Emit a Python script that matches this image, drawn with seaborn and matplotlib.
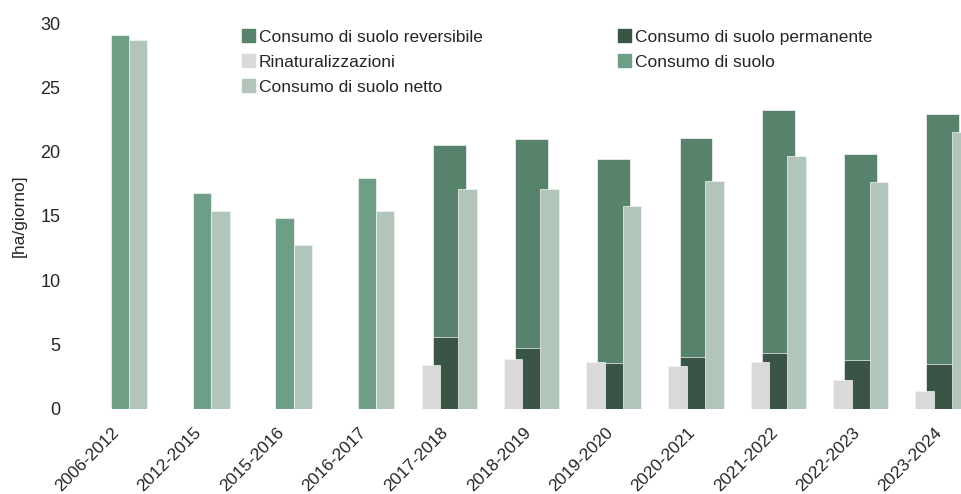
import matplotlib
matplotlib.use("Agg")
import matplotlib.pyplot as plt
from matplotlib.patches import Patch
import numpy as np
import pandas as pd
import seaborn as sns

periods = ["2006-2012", "2012-2015", "2015-2016", "2016-2017", "2017-2018", "2018-2019",
           "2019-2020", "2020-2021", "2021-2022", "2022-2023", "2023-2024"]
consumo = [29.1, 16.8, 14.85, 17.95, None, None, None, None, None, None, None]
permanente = [None, None, None, None, 5.6, 4.75, 3.55, 4.05, 4.3, 3.75, 3.5]
reversibile = [None, None, None, None, 14.9, 16.2, 15.85, 17.0, 18.9, 16.1, 19.4]
rinaturalizzazioni = [None, None, None, None, 3.4, 3.9, 3.6, 3.3, 3.6, 2.2, 1.4]
netto = [28.65, 15.35, 12.75, 15.35, 17.1, 17.05, 15.75, 17.7, 19.65, 17.6, 21.5]

colors = {
    "reversibile": "#57826b",
    "permanente": "#3a5445",
    "rinat": "#d9d9d9",
    "consumo": "#6e9e86",
    "netto": "#b1c5ba",
}

sns.set_theme(style="white")
plt.rcParams["font.family"] = ["Liberation Sans", "DejaVu Sans"]
FS = 12.5

df = pd.DataFrame({
    "period": periods,
    "pos": np.arange(len(periods), dtype=float),
    "consumo": consumo,
    "permanente": permanente,
    "reversibile": reversibile,
    "rinat": rinaturalizzazioni,
    "netto": netto,
})
df["totale"] = df["permanente"] + df["reversibile"]

fig = plt.figure(figsize=(9.61, 4.94), dpi=100)
ax = fig.add_axes([0.07, 0.1727, 0.93, 0.7807])

narrow = 0.225
wide = 0.40
off = 0.222
edge = dict(edgecolor="#f2f5f3", linewidth=0.5)


def bars(col, shift, width, color):
    d = df.dropna(subset=[col])
    sns.barplot(x=d["pos"] + shift, y=d[col], native_scale=True, width=width,
                color=color, saturation=1, errorbar=None, ax=ax, **edge)


# stacked: reversibile on top of permanente
bars("totale", 0, wide, colors["reversibile"])
bars("permanente", 0, wide, colors["permanente"])
bars("rinat", -off, narrow, colors["rinat"])
bars("consumo", 0, narrow, colors["consumo"])
bars("netto", off, narrow, colors["netto"])

ax.set_xlim(-0.64, 10.22)
ax.set_ylim(0, 30)
ax.set_yticks(range(0, 31, 5))
ax.set_xticks(df["pos"])
ax.set_xticklabels(periods, rotation=45, ha="right", va="baseline",
                   rotation_mode="anchor", fontsize=FS)
ax.tick_params(axis="y", labelsize=FS + 0.5, length=0, pad=5)
ax.tick_params(axis="x", length=0, pad=17.5)
ax.set_xlabel("")
ax.set_ylabel("[ha/giorno]", fontsize=FS)
ax.yaxis.set_label_coords(-0.045, 0.5)
sns.despine(ax=ax, left=True, bottom=True)

handles = [
    Patch(color=colors["reversibile"], label="Consumo di suolo reversibile"),
    Patch(color=colors["rinat"], label="Rinaturalizzazioni"),
    Patch(color=colors["netto"], label="Consumo di suolo netto"),
    Patch(color=colors["permanente"], label="Consumo di suolo permanente"),
    Patch(color=colors["consumo"], label="Consumo di suolo"),
]
fig.legend(handles=handles, ncol=2, loc="upper left", bbox_to_anchor=(0.245, 0.955),
           frameon=False, fontsize=FS, handlelength=0.75, handleheight=0.75,
           handletextpad=0.2, labelspacing=0.55, columnspacing=7.8, borderaxespad=0)

fig.savefig("out.png", dpi=100)
